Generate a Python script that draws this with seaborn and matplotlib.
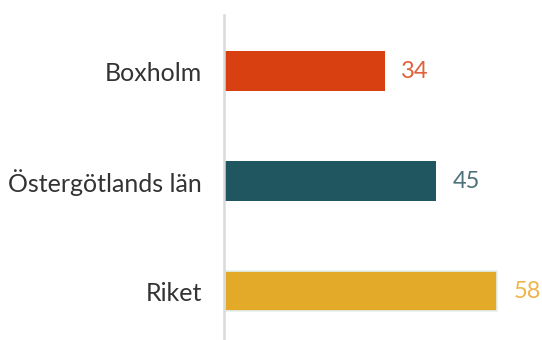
import matplotlib
matplotlib.use("Agg")
import matplotlib.pyplot as plt
import seaborn as sns
import pandas as pd

categories = ["Boxholm", "Östergötlands län", "Riket"]
values = [34, 45, 58]
bar_colors = ["#D84012", "#1F5660", "#E3A928"]
label_colors = ["#E1603A", "#4D7279", "#EDB54C"]

sns.set_style("white")
plt.rcParams['font.family'] = ['Lato', 'DejaVu Sans']

df = pd.DataFrame({"cat": categories, "val": values})

fig = plt.figure(figsize=(5.42, 3.40), dpi=100)
ax = fig.add_axes([224 / 542, 0.0, 1 - 224 / 542, 1 - 15 / 340])

sns.barplot(data=df, x="val", y="cat", hue="cat", palette=bar_colors,
            order=categories, hue_order=categories, width=0.36, legend=False,
            ax=ax, saturation=1)

for i, p in enumerate(ax.patches):
    if i == 2:
        p.set_edgecolor("#E4F1F1")
        p.set_linewidth(1.2)
    else:
        p.set_linewidth(0)

ax.set_xlim(-0.3, 67.5)
ax.set_ylim(2.445, -0.509)

for i, (v, c) in enumerate(zip(values, label_colors)):
    ax.text(v + 3.4, i, str(v), color=c, fontsize=17,
            va="center", ha="left")

ax.set_xlabel("")
ax.set_ylabel("")
ax.set_xticks([])
ax.tick_params(axis="y", length=0, pad=16)
for lbl in ax.get_yticklabels():
    lbl.set_fontsize(18)
    lbl.set_color("#333333")

for s in ["top", "right", "bottom"]:
    ax.spines[s].set_visible(False)
ax.spines["left"].set_color("#D9D9D9")
ax.spines["left"].set_linewidth(1.8)

fig.savefig("out.png", dpi=100)
